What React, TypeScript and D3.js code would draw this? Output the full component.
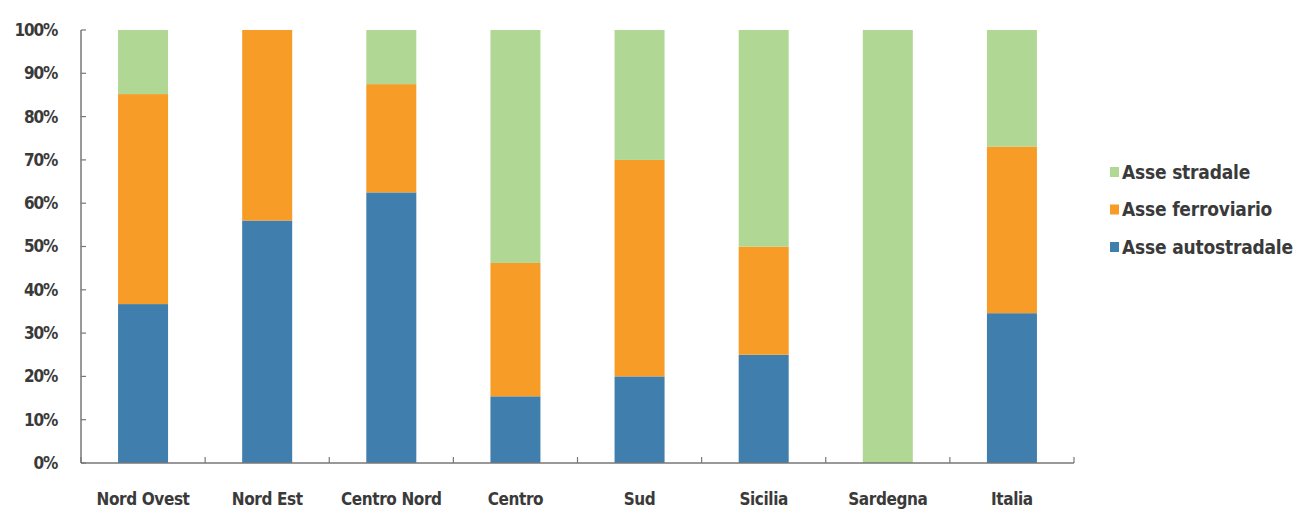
import React from "react";
import * as d3 from "d3";

const categories = ["Nord Ovest", "Nord Est", "Centro Nord", "Centro", "Sud", "Sicilia", "Sardegna", "Italia"];
const autostradale = [36.7, 56, 62.5, 15.4, 20, 25, 0, 34.6];
const ferroviario = [48.5, 44, 25, 30.8, 50, 25, 0, 38.5];
const stradale = [14.8, 0, 12.5, 53.8, 30, 50, 100, 26.9];
const seriesNames = ["Asse autostradale", "Asse ferroviario", "Asse stradale"];
const seriesColors = ["#3f7ead", "#f89c28", "#b0d894"];
const yTicks = [0, 10, 20, 30, 40, 50, 60, 70, 80, 90, 100];

const W = 1295, H = 511;
const left = 81, right = 1074, top = 30, bottom = 463;
const font = "'DejaVu Sans Condensed', 'DejaVu Sans', sans-serif";

export default function App() {
  const x = d3.scaleBand<string>().domain(categories).range([left, right]).paddingInner(0).paddingOuter(0);
  const y = d3.scaleLinear().domain([0, 100]).range([bottom, top]);
  const rows = categories.map((c, i) => ({ cat: c, s0: autostradale[i], s1: ferroviario[i], s2: stradale[i] }));
  const stack = d3.stack<any>().keys(["s0", "s1", "s2"])(rows);
  const bw = 50;
  const boundaries = d3.range(categories.length + 1).map((i) => left + i * x.bandwidth());
  const legendOrder = [2, 1, 0];
  return (
    <svg width={W} height={H} style={{ position: "absolute", left: 0, top: 0, background: "#fff" }}>
      {stack.map((layer, si) => (
        <g key={si} fill={seriesColors[si]}>
          {layer.map((d, i) => {
            const h = y(d[0]) - y(d[1]);
            if (h <= 0) return null;
            const cx = (x(categories[i]) as number) + x.bandwidth() / 2;
            return <rect key={i} x={cx - bw / 2} y={y(d[1])} width={bw} height={h} />;
          })}
        </g>
      ))}
      <line x1={left} x2={left} y1={top} y2={bottom} stroke="#777" strokeWidth={1.5} />
      <line x1={left} x2={right} y1={bottom} y2={bottom} stroke="#777" strokeWidth={1.5} />
      {yTicks.map((t) => (
        <g key={t}>
          <line x1={left} x2={left + 5} y1={y(t)} y2={y(t)} stroke="#777" strokeWidth={1.2} />
          <text x={57} y={y(t)} dy="0.35em" textAnchor="end" fontFamily={font} fontWeight="bold" fontSize={17} fill="#3a3a3a" letterSpacing={-1.2}>
            {t}%
          </text>
        </g>
      ))}
      {boundaries.map((bx, i) => (
        <line key={i} x1={bx} x2={bx} y1={bottom} y2={bottom - 6} stroke="#777" strokeWidth={1.2} />
      ))}
      {categories.map((c) => (
        <text key={c} x={(x(c) as number) + x.bandwidth() / 2} y={505} textAnchor="middle" fontFamily={font} fontWeight="bold" fontSize={17} fill="#3a3a3a" letterSpacing={-0.4}>
          {c}
        </text>
      ))}
      {legendOrder.map((si, k) => (
        <g key={si} transform={`translate(1110, ${172 + k * 37.5})`}>
          <rect x={0} y={-5} width={9} height={10} fill={seriesColors[si]} />
          <text x={12} y={0} dy="0.35em" fontFamily={font} fontWeight="bold" fontSize={19} fill="#3a3a3a" letterSpacing={-0.2}>
            {seriesNames[si]}
          </text>
        </g>
      ))}
    </svg>
  );
}
